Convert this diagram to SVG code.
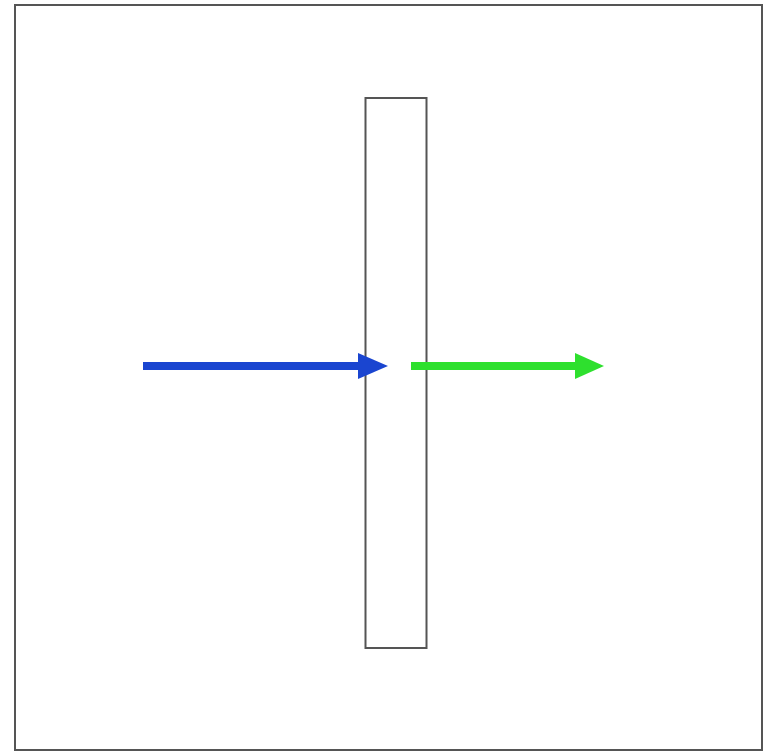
<svg xmlns="http://www.w3.org/2000/svg" width="773" height="752" viewBox="0 0 773 752">
<style>
.frame{fill:#fff;stroke:#555;stroke-width:2}
.slab{fill:#fff;stroke:#555;stroke-width:2}
.ray{stroke-width:8;fill:none}
</style>
<rect width="773" height="752" fill="#fff"/>
<rect class="frame" x="15" y="5" width="747" height="745"/>
<g id="slab"><rect class="slab" x="365.5" y="98" width="61" height="550"/></g>
<g id="connectors">
<g id="incident">
<line class="ray" x1="143" y1="366" x2="362" y2="366" stroke="#1a45d0"/>
<polygon points="358,353 388,366 358,379" fill="#1a45d0"/>
</g>
<g id="transmitted">
<line class="ray" x1="411" y1="366" x2="578" y2="366" stroke="#2ee02e"/>
<polygon points="575,353 604,366 575,379" fill="#2ee02e"/>
</g>
</g>
</svg>
